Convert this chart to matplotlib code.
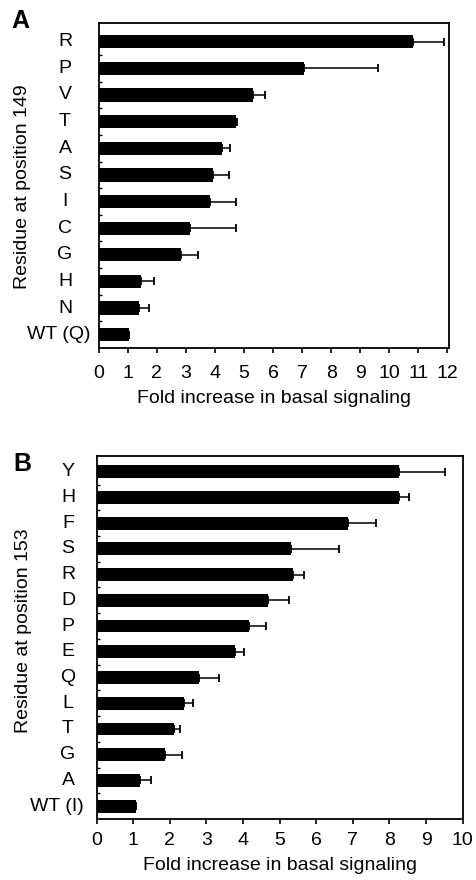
import matplotlib
matplotlib.use("Agg")
import matplotlib.pyplot as plt
import numpy as np

plt.rcParams['font.family'] = ['Liberation Sans', 'DejaVu Sans']

# Panel A data (top to bottom)
cats_a = ["R", "P", "V", "T", "A", "S", "I", "C", "G", "H", "N", "WT (Q)"]
vals_a = [10.8, 7.06, 5.30, 4.74, 4.23, 3.94, 3.83, 3.14, 2.83, 1.45, 1.40, 1.03]
err_a = [1.10, 2.56, 0.42, 0.02, 0.28, 0.53, 0.88, 1.58, 0.60, 0.45, 0.33, 0.0]
xticks_a = list(range(0, 13))

# Panel B data (top to bottom)
cats_b = ["Y", "H", "F", "S", "R", "D", "P", "E", "Q", "L", "T", "G", "A", "WT (I)"]
vals_b = [8.27, 8.26, 6.87, 5.30, 5.36, 4.67, 4.17, 3.78, 2.80, 2.39, 2.10, 1.87, 1.19, 1.07]
err_b = [1.25, 0.27, 0.76, 1.33, 0.30, 0.58, 0.46, 0.25, 0.55, 0.25, 0.18, 0.47, 0.29, 0.0]
xticks_b = list(range(0, 11))

FS = 14

fig = plt.figure(figsize=(4.77, 8.8), dpi=100)

def panel(rect, cats, vals, errs, xticks, xmax, top_pad, letter_x, wt_x,
          tick_pad, label_pad):
    ax = fig.add_axes(rect)
    n = len(cats)
    y = np.arange(n)[::-1]
    ax.barh(y, vals, height=0.5, color="black", zorder=2)
    ax.errorbar(vals, y, xerr=[np.zeros(n), errs], fmt="none", ecolor="black",
                elinewidth=1.1, capsize=3.2, capthick=1.3, zorder=3)
    ax.set_xlim(0, xmax)
    ax.set_ylim(-0.5, n - 1 + top_pad)
    ax.set_yticks(y)
    ax.set_yticklabels([])
    ax.tick_params(axis="y", length=0)
    tr = ax.get_yaxis_transform()
    for yi, c in zip(y, cats):
        if c.startswith("WT"):
            ax.text(wt_x, yi, c, transform=tr, ha="right", va="center", fontsize=FS)
        else:
            ax.text(letter_x, yi, c, transform=tr, ha="center", va="center", fontsize=FS)
    ax.set_yticks(np.arange(n - 1) + 0.5, minor=True)
    ax.tick_params(axis="y", which="minor", direction="in", length=2.5, width=1)
    ax.set_xticks(xticks)
    ax.set_xticklabels([str(t) for t in xticks], fontsize=FS)
    ax.tick_params(axis="x", length=3.6, width=1.2, direction="out", pad=tick_pad)
    for s in ax.spines.values():
        s.set_linewidth(1.3)
    ax.set_xlabel("Fold increase in basal signaling", fontsize=FS, labelpad=label_pad)
    return ax

axA = panel([0.207, 0.6045, 0.734, 0.369], cats_a, vals_a, err_a, xticks_a, 12.05,
            0.69, -0.0962, -0.0248, 8.5, 6)
axB = panel([0.2027, 0.0693, 0.768, 0.4125], cats_b, vals_b, err_b, xticks_b, 10.01,
            0.61, -0.0784, -0.034, 5.5, 6)

fig.text(23 / 477, 1 - 186.5 / 880, "Residue at position 149", rotation=90,
         ha="center", va="center", fontsize=FS)
fig.text(24 / 477, 1 - 631 / 880, "Residue at position 153", rotation=90,
         ha="center", va="center", fontsize=FS)

fig.text(11 / 477, 1 - 21 / 880, "A", fontsize=18, fontweight="bold", va="center", ha="left")
fig.text(13 / 477, 1 - 464 / 880, "B", fontsize=18, fontweight="bold", va="center", ha="left")

fig.savefig("out.png", dpi=100)
